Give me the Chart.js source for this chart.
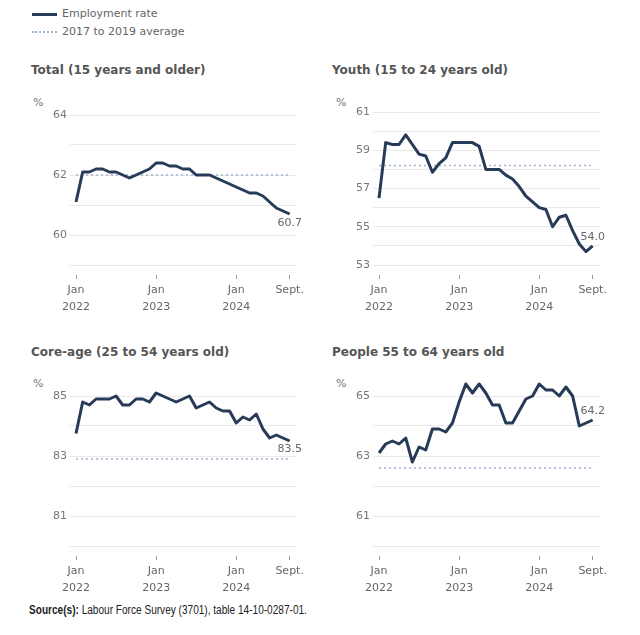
<!DOCTYPE html>
<html>
<head>
<meta charset="utf-8">
<script src="https://cdn.jsdelivr.net/npm/chart.js@4"></script>
<style>
  body { margin: 0; background: #fff; font-family: 'DejaVu Sans', sans-serif; }
  #wrap { position: relative; width: 640px; height: 635px; overflow: hidden; }
  .abs { position: absolute; white-space: nowrap; }
  .title { font-weight: bold; font-size: 12px; color: #555; line-height: 16px; }
  .legend { font-size: 11px; color: #666; line-height: 14px; }
  .pct { font-size: 11px; color: #777; line-height: 14px; }
  .swatch { position: absolute; width: 25px; height: 0; }
  canvas { position: absolute; }
  .source { font-family: 'Liberation Sans', sans-serif; font-size: 12px; color: #222; line-height: 14px;
            transform: scaleX(0.84); transform-origin: left center; }
</style>
</head>
<body>
<div id="wrap">
  <!-- legend -->
  <div class="swatch" style="left:32px; top:13px; border-top:3px solid #273a58;"></div>
  <div class="abs legend" style="left:62px; top:7px;">Employment rate</div>
  <div class="swatch" style="left:32px; top:31px; border-top:2px dotted #9db4cc;"></div>
  <div class="abs legend" style="left:62px; top:25px;">2017 to 2019 average</div>

  <!-- panel titles -->
  <div class="abs title" style="left:31px; top:62px;">Total (15 years and older)</div>
  <div class="abs title" style="left:332px; top:62px;">Youth (15 to 24 years old)</div>
  <div class="abs title" style="left:31px; top:344px;">Core-age (25 to 54 years old)</div>
  <div class="abs title" style="left:332px; top:344px;">People 55 to 64 years old</div>

  <div class="abs pct" style="left:33px; top:96px;">%</div>
  <div class="abs pct" style="left:336px; top:96px;">%</div>
  <div class="abs pct" style="left:33px; top:377px;">%</div>
  <div class="abs pct" style="left:336px; top:377px;">%</div>

  <canvas id="c-total" width="320" height="230" style="left:0; top:85px;"></canvas>
  <canvas id="c-youth" width="320" height="230" style="left:303px; top:85px;"></canvas>
  <canvas id="c-core" width="320" height="230" style="left:0; top:366px;"></canvas>
  <canvas id="c-older" width="320" height="230" style="left:303px; top:366px;"></canvas>

  <div class="abs source" style="left:29px; top:603px;"><b>Source(s):</b> Labour Force Survey (3701), table 14-10-0287-01.</div>
</div>

<script>
// Monthly employment rate, Jan 2022 .. Sept 2024 (33 months)
const X_TICKS = [0, 12, 24, 32];
const X_LABELS = [['Jan', '2022'], ['Jan', '2023'], ['Jan', '2024'], ['Sept.']];

const TOTAL = [61.1, 62.1, 62.1, 62.2, 62.2, 62.1, 62.1, 62.0, 61.9, 62.0, 62.1, 62.2,
               62.4, 62.4, 62.3, 62.3, 62.2, 62.2, 62.0, 62.0, 62.0, 61.9, 61.8, 61.7,
               61.6, 61.5, 61.4, 61.4, 61.3, 61.1, 60.9, 60.8, 60.7];
const YOUTH = [56.5, 59.4, 59.3, 59.3, 59.8, 59.3, 58.8, 58.7, 57.85, 58.3, 58.6, 59.4,
               59.4, 59.4, 59.4, 59.2, 58.0, 58.0, 58.0, 57.7, 57.5, 57.1, 56.6, 56.3,
               56.0, 55.9, 55.0, 55.5, 55.6, 54.8, 54.1, 53.7, 54.0];
const CORE = [83.75, 84.8, 84.7, 84.9, 84.9, 84.9, 85.0, 84.7, 84.7, 84.9, 84.9, 84.8,
              85.1, 85.0, 84.9, 84.8, 84.9, 85.0, 84.6, 84.7, 84.8, 84.6, 84.5, 84.5,
              84.1, 84.3, 84.2, 84.4, 83.9, 83.6, 83.7, 83.6, 83.5];
const OLDER = [63.1, 63.4, 63.5, 63.4, 63.6, 62.8, 63.3, 63.2, 63.9, 63.9, 63.8, 64.1,
               64.8, 65.4, 65.1, 65.4, 65.1, 64.7, 64.7, 64.1, 64.1, 64.5, 64.9, 65.0,
               65.4, 65.2, 65.2, 65.0, 65.3, 65.0, 64.0, 64.1, 64.2];

// 2017 to 2019 averages
const AVG_TOTAL = 62.0;
const AVG_YOUTH = 58.2;
const AVG_CORE = 82.9;
const AVG_OLDER = 62.6;

const LINE_COLOR = '#273a58';
const AVG_COLOR = '#9db4cc';

// writes the latest value next to the last point of the series
const endLabel = {
  id: 'endLabel',
  afterDatasetsDraw(chart, args, opts) {
    const meta = chart.getDatasetMeta(0);
    const pt = meta.data[meta.data.length - 1];
    const ds = chart.data.datasets[0].data;
    const ctx = chart.ctx;
    ctx.save();
    ctx.font = '11px "DejaVu Sans"';
    ctx.fillStyle = '#666';
    ctx.textAlign = 'center';
    ctx.textBaseline = 'middle';
    ctx.fillText(ds[ds.length - 1].y.toFixed(1), pt.x, pt.y + opts.dy);
    ctx.restore();
  }
};

function makePanel(id, values, avg, yMin, yMax, padTop, dy) {
  new Chart(document.getElementById(id), {
    type: 'line',
    data: {
      datasets: [{
        data: values.map((v, i) => ({ x: i, y: v })),
        borderColor: LINE_COLOR,
        borderWidth: 3,
        pointRadius: 0,
        tension: 0,
        clip: false,
        borderJoinStyle: 'round'
      }, {
        data: [{ x: 0, y: avg }, { x: values.length - 1, y: avg }],
        borderColor: AVG_COLOR,
        borderWidth: 1.5,
        borderDash: [2, 3],
        pointRadius: 0
      }]
    },
    options: {
      responsive: false,
      animation: false,
      layout: { padding: { top: padTop, right: 23, left: 0, bottom: 0 } },
      plugins: {
        legend: { display: false },
        tooltip: { enabled: false },
        endLabel: { dy: dy }
      },
      scales: {
        x: {
          type: 'linear',
          min: -0.9,
          max: 33.1,
          afterBuildTicks: s => { s.ticks = X_TICKS.map(v => ({ value: v })); },
          afterFit: s => { s.height = 50; },
          border: { display: false },
          grid: {
            drawOnChartArea: false,
            tickLength: 14,
            tickBorderDash: [0, 10, 4, 60],
            tickColor: '#999',
            tickWidth: 1
          },
          ticks: {
            autoSkip: false,
            maxRotation: 0,
            padding: 3,
            color: '#666',
            font: { family: 'DejaVu Sans', size: 11, lineHeight: 1.5 },
            callback: (v, i) => X_LABELS[i]
          }
        },
        y: {
          min: yMin,
          max: yMax,
          afterFit: s => { s.width = 70; },
          border: { display: false },
          grid: { color: '#e9e9e9', drawTicks: false },
          ticks: {
            stepSize: 1,
            padding: 3,
            color: '#777',
            font: { family: 'DejaVu Sans', size: 11 },
            callback: v => ((yMax - v) % 2 === 0 ? v : '')
          }
        }
      }
    },
    plugins: [endLabel]
  });
}

makePanel('c-total', TOTAL, AVG_TOTAL, 59, 64, 30, 9);
makePanel('c-youth', YOUTH, AVG_YOUTH, 53, 61, 27, -9);
makePanel('c-core', CORE, AVG_CORE, 80, 85, 30, 8);
makePanel('c-older', OLDER, AVG_OLDER, 60, 65, 30, -9);
</script>
</body>
</html>
